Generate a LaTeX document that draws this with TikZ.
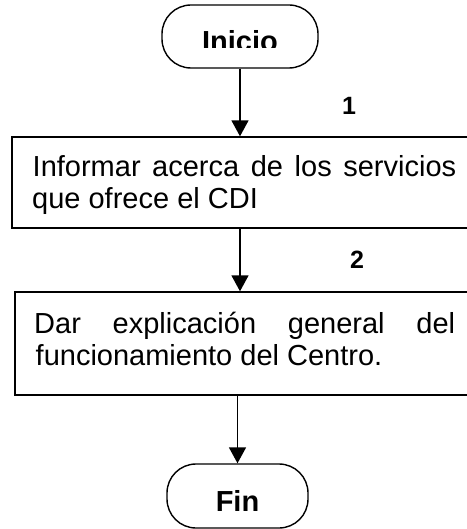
\documentclass[tikz,border=0pt]{standalone}
\usepackage{fontspec}
\setmainfont{Liberation Sans}
\usetikzlibrary{arrows.meta,calc}
\begin{document}
\begin{tikzpicture}[x=1pt,y=-1pt,
  term/.style={draw,line width=1.4pt,rounded corners=29pt,minimum width=156pt,minimum height=63pt,inner sep=0pt},
  procbox/.style={draw,line width=1.4pt,inner sep=0pt},
  txt/.style={inner sep=0pt,anchor=base west,font=\fontsize{29}{33}\selectfont},
  lbl/.style={inner sep=0pt,font=\fontsize{25}{29}\selectfont\bfseries},
  ttxt/.style={inner sep=0pt,anchor=base,font=\fontsize{29}{33}\selectfont\bfseries},
  flow/.style={line width=1.6pt,-{Triangle[width=17pt,length=16pt]}}]
\useasboundingbox (0,0) rectangle (466,529);
% terminals
\node[term] (ini) at (240,36.5) {};
\begin{scope}
  \clip (0,0) rectangle (466,48);
  \node[ttxt] (initxt) at (240,52) {Inicio};
\end{scope}
\node[term,minimum width=141pt,minimum height=64pt] (fin) at (237.5,496) {};
\node[ttxt] (fintxt) at (237.5,511) {Fin};
% process boxes
\node[procbox,minimum width=460pt,minimum height=91pt] (box1) at (242,182.5) {};
\node[procbox,minimum width=458pt,minimum height=103pt] (box2) at (244,343.5) {};
\node[txt] (b1l1) at (32.5,177) {\makebox[423.5pt][s]{Informar acerca de los servicios}};
\node[txt] (b1l2) at (32,208) {que ofrece el CDI};
\node[txt] (b2l1) at (34,333) {\makebox[421pt][s]{Dar explicación general del}};
\node[txt] (b2l2) at (35.5,365) {funcionamiento del Centro.};
% labels
\node[lbl] (n1) at (349,106) {1};
\node[lbl] (n2) at (357,260) {2};
% connectors
\draw[flow] (ini.south) -- (ini.south |- box1.north);
\draw[flow] (ini.south |- box1.south) -- (ini.south |- box2.north);
\draw[flow] (fin.north |- box2.south) -- (fin.north);
\end{tikzpicture}
\end{document}
